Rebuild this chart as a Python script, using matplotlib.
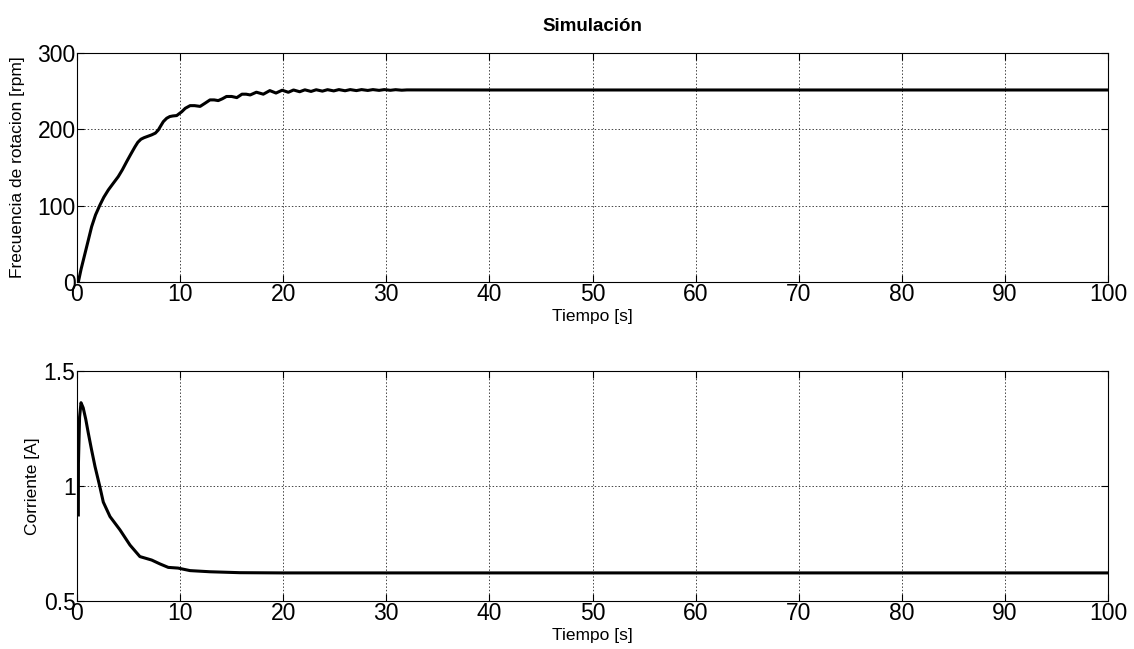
import matplotlib.pyplot as plt
import numpy as np

plt.rcParams['font.family'] = ['Liberation Sans', 'DejaVu Sans']

# velocidad de rotacion [rpm] vs tiempo [s]
t_vel = [0, 0.13, 0.4, 0.78, 1.1, 1.42, 1.8, 2.23, 2.6, 3.04, 3.5, 4.0, 4.4, 4.82,
         5.2, 5.62, 5.9, 6.2, 6.5, 6.8, 7.24, 7.6, 7.88, 8.1, 8.37, 8.7, 9.0,
         9.3, 9.67, 10.16, 10.5, 10.97, 11.4, 11.94, 12.4, 12.9, 13.3, 13.7, 14.1,
         14.5, 15.0, 15.5, 16.0, 16.4, 16.8, 17.4, 18.07, 18.7, 19.3, 19.9, 20.5,
         21.0, 21.6, 22.1, 22.7, 23.2, 23.8, 24.3, 24.9, 25.4, 26.0, 26.5, 27.1,
         27.6, 28.2, 28.7, 29.3, 29.8, 30.4, 30.9, 31.5, 32.0, 40, 60, 80, 100]
vel = [0, 0, 17, 37.6, 55, 72.5, 88, 101, 111, 120.6, 129, 138, 147, 157.7,
       167, 177, 183, 187, 189, 190.5, 192.7, 195, 199, 204, 210, 214.5, 216.7,
       217.5, 218, 223, 227.5, 231, 231, 230, 234, 238.5, 238.5, 237.6, 240,
       243, 243, 241.5, 246, 246, 245, 248.6, 246, 250.7, 247.5, 251.2, 248.5,
       251.5, 249.2, 251.7, 249.6, 251.8, 250.0, 251.9, 250.3, 252.0, 250.5, 252.0,
       250.7, 252.0, 250.9, 252.0, 251.0, 252.0, 251.1, 251.9, 251.2, 251.6,
       251.5, 251.5, 251.5, 251.5]

# corriente [A] vs tiempo [s]
t_cor = [0.13, 0.14, 0.25, 0.39, 0.6, 0.85, 1.1, 1.4, 1.75, 2.2, 2.55, 3.2, 4.17,
         5.14, 6.1, 7.24, 8.05, 8.85, 9.8, 10.96, 12.9, 15.8, 20, 40, 60, 80, 100]
cor = [0.874, 1.1, 1.3, 1.362, 1.34, 1.29, 1.229, 1.16, 1.084, 1.0, 0.93, 0.867, 0.809,
       0.743, 0.693, 0.678, 0.661, 0.646, 0.643, 0.632, 0.627, 0.623, 0.622, 0.622,
       0.622, 0.622, 0.622]

fig = plt.figure(figsize=(11.34, 6.49), dpi=100)
ax1 = fig.add_axes([0.0679, 0.5655, 0.9092, 0.3529])
ax2 = fig.add_axes([0.0679, 0.074, 0.9092, 0.3544])

for ax in (ax1, ax2):
    ax.set_xlim(0, 100)
    ax.set_xticks(np.arange(0, 101, 10))
    ax.grid(True, color='#444444', ls=(0, (1.5, 2)), lw=0.7)
    ax.tick_params(direction='in', length=5, width=0.8, top=True, right=True,
                   labelsize=16.5, pad=1)
    for s in ax.spines.values():
        s.set_linewidth(0.8)
    ax.set_xlabel('Tiempo [s]', fontsize=12.5, labelpad=2)

ax1.plot(t_vel, vel, color='black', lw=2.2)
ax1.set_ylim(0, 300)
ax1.set_yticks([0, 100, 200, 300])
ax1.set_ylabel('Frecuencia de rotacion [rpm]', fontsize=12.5, labelpad=9)
ax1.set_title('Simulación', fontsize=13.5, fontweight='bold', pad=16)

ax2.plot(t_cor, cor, color='black', lw=2.2)
ax2.set_ylim(0.5, 1.5)
ax2.set_yticks([0.5, 1, 1.5])
ax2.set_yticklabels(['0.5', '1', '1.5'])
ax2.set_ylabel('Corriente [A]', fontsize=12.5, labelpad=3)

fig.savefig('out.png', dpi=100)
